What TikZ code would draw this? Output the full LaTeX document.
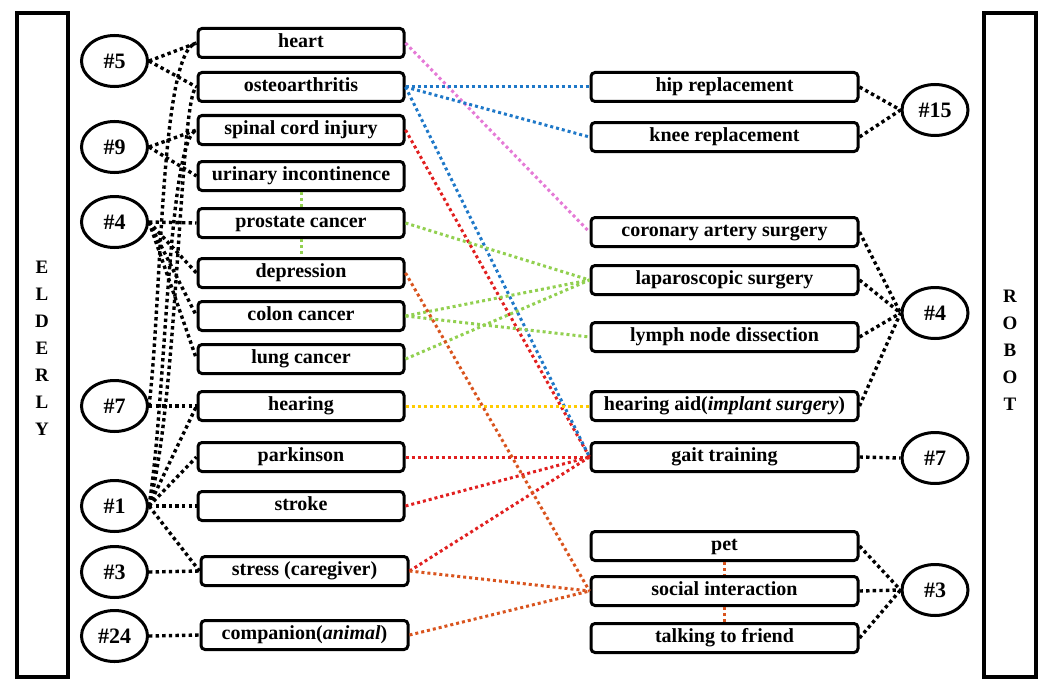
\documentclass[tikz,border=0pt]{standalone}
\usepackage{fontspec}
\setmainfont{Liberation Serif}
\usetikzlibrary{shapes.geometric}
\definecolor{cpink}{HTML}{E57AD6}
\definecolor{cblue}{HTML}{1E78C8}
\definecolor{cred}{HTML}{E11F1F}
\definecolor{cgreen}{HTML}{92D050}
\definecolor{cyellow}{HTML}{FFCC00}
\definecolor{corange}{HTML}{D9541E}
\tikzset{
  lbox/.style={draw, line width=3pt, rounded corners=4pt, fill=white, minimum width=206pt, minimum height=29pt, inner sep=0pt, text height=13.6pt, text depth=4.4pt, font=\bfseries\fontsize{20}{22}\selectfont},
  rbox/.style={lbox, minimum width=267pt},
  numnode/.style={draw, ellipse, line width=3pt, fill=white, minimum width=66pt, minimum height=51pt, inner sep=0pt, font=\bfseries\fontsize{22}{24}\selectfont},
  blk/.style={black, line width=3.4pt, dash pattern=on 3.4pt off 3.2pt},
  col/.style={#1, line width=3pt, dash pattern=on 3pt off 3pt},
  sidebar/.style={draw, line width=4pt},
  sidetext/.style={align=center, font=\bfseries\fontsize{19}{27}\selectfont}
}
\begin{document}
\begin{tikzpicture}[x=1pt,y=-1pt]
\useasboundingbox (0,0) rectangle (1048,690);
% side bars
\draw[sidebar] (17,13) rectangle (68,677);
\draw[sidebar] (984,13) rectangle (1036,677);
\node[sidetext] (elderly) at (42,348) {E\\L\\D\\E\\R\\L\\Y};
\node[sidetext] (robot) at (1010,350) {R\\O\\B\\O\\T};
% left boxes
\node[lbox] (heart) at (301,43) {heart};
\node[lbox] (osteo) at (301,87) {osteoarthritis};
\node[lbox] (spinal) at (301,130) {spinal cord injury};
\node[lbox] (urinary) at (301,176) {urinary incontinence};
\node[lbox] (prostate) at (301,223) {prostate cancer};
\node[lbox] (depression) at (301,273) {depression};
\node[lbox] (colon) at (301,316) {colon cancer};
\node[lbox] (lung) at (301,359) {lung cancer};
\node[lbox] (hearing) at (301,406) {hearing};
\node[lbox] (parkinson) at (301,457) {parkinson};
\node[lbox] (stroke) at (301,506) {stroke};
\node[lbox, minimum width=207pt] (stress) at (304.5,571) {stress (caregiver)};
\node[lbox, minimum width=207pt] (companion) at (304.5,635) {companion(\textit{animal})};
% right boxes
\node[rbox] (hip) at (724.5,87) {hip replacement};
\node[rbox] (knee) at (724.5,137) {knee replacement};
\node[rbox] (coronary) at (724.5,232) {coronary artery surgery};
\node[rbox] (lap) at (724.5,280) {laparoscopic surgery};
\node[rbox] (lymph) at (724.5,337) {lymph node dissection};
\node[rbox] (hearaid) at (724.5,406) {hearing aid(\textit{implant surgery})};
\node[rbox] (gait) at (724.5,457) {gait training};
\node[rbox] (pet) at (724.5,546) {pet};
\node[rbox] (social) at (724.5,591) {social interaction};
\node[rbox] (talk) at (724.5,638) {talking to friend};
% left ellipses
\node[numnode] (l5) at (114.5,61) {\#5};
\node[numnode] (l9) at (114.5,147) {\#9};
\node[numnode] (l4) at (114.5,222) {\#4};
\node[numnode] (l7) at (114.5,406) {\#7};
\node[numnode] (l1) at (114.5,506) {\#1};
\node[numnode] (l3) at (114.5,572) {\#3};
\node[numnode] (l24) at (114.5,636) {\#24};
% right ellipses
\node[numnode] (r15) at (935,110) {\#15};
\node[numnode] (r4) at (935,313) {\#4};
\node[numnode] (r7) at (935,458) {\#7};
\node[numnode] (r3) at (935,590) {\#3};
% left black connectors
\draw[blk] (l5.east) -- (heart.west);
\draw[blk] (l5.east) -- (osteo.west);
\draw[blk] (l9.east) -- (spinal.west);
\draw[blk] (l9.east) -- (urinary.west);
\draw[blk] (l4.east) -- (prostate.west);
\draw[blk] (l4.east) -- (depression.west);
\draw[blk] (l4.east) -- (colon.west);
\draw[blk] (l4.east) -- (lung.west);
\draw[blk] (l7.east) -- (hearing.west);
\draw[blk] (l7.east) .. controls (162,300) and (160,50) .. (heart.west);
\draw[blk] (l1.east) .. controls (178,400) and (180,95) .. (osteo.west);
\draw[blk] (l1.east) .. controls (166,400) and (168,140) .. (spinal.west);
\draw[blk] (l1.east) -- (hearing.west);
\draw[blk] (l1.east) -- (parkinson.west);
\draw[blk] (l1.east) -- (stroke.west);
\draw[blk] (l1.east) -- (stress.west);
\draw[blk] (l3.east) -- (stress.west);
\draw[blk] (l24.east) -- (companion.west);
% right black connectors
\draw[blk] (hip.east) -- (r15.west);
\draw[blk] (knee.east) -- (r15.west);
\draw[blk] (coronary.east) -- (r4.west);
\draw[blk] (lap.east) -- (r4.west);
\draw[blk] (lymph.east) -- (r4.west);
\draw[blk] (hearaid.east) -- (r4.west);
\draw[blk] (gait.east) -- (r7.west);
\draw[blk] (pet.east) -- (r3.west);
\draw[blk] (social.east) -- (r3.west);
\draw[blk] (talk.east) -- (r3.west);
% coloured connectors
\draw[col=cpink] (heart.east) -- (coronary.west);
\draw[col=cblue] (osteo.east) -- (hip.west);
\draw[col=cblue] (osteo.east) -- (knee.west);
\draw[col=cred] (spinal.east) -- (gait.west);
\draw[col=cblue] (osteo.east) -- (gait.west);
\draw[col=cred] (parkinson.east) -- (gait.west);
\draw[col=cred] (stroke.east) -- (gait.west);
\draw[col=cred] (stress.east) -- (gait.west);
\draw[col=cgreen] (urinary.south) -- (prostate.north);
\draw[col=cgreen] (prostate.south) -- (depression.north);
\draw[col=cgreen] (prostate.east) -- (lap.west);
\draw[col=cgreen] (colon.east) -- (lap.west);
\draw[col=cgreen] (colon.east) -- (lymph.west);
\draw[col=cgreen] (lung.east) -- (lap.west);
\draw[col=cyellow] (hearing.east) -- (hearaid.west);
\draw[col=corange] (depression.east) -- (social.west);
\draw[col=corange] (stress.east) -- (social.west);
\draw[col=corange] (companion.east) -- (social.west);
\draw[col=corange] (pet.south) -- (social.north);
\draw[col=corange] (social.south) -- (talk.north);
\end{tikzpicture}
\end{document}
